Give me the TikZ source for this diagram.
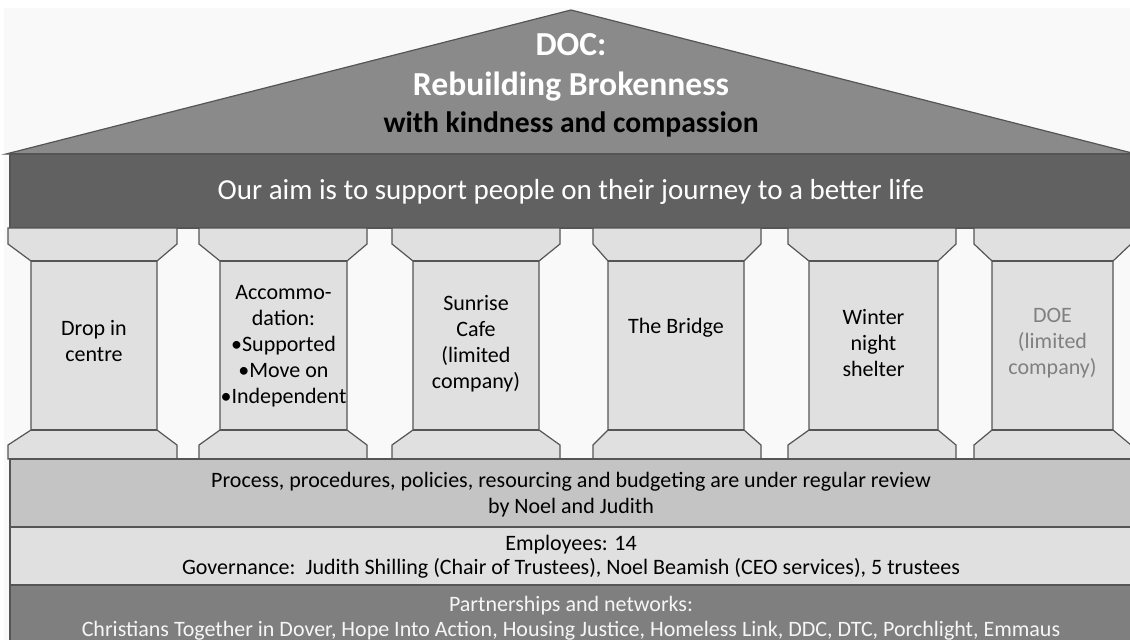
\documentclass[tikz,border=0pt]{standalone}
\usepackage{fontspec}
\setmainfont{Carlito}

\definecolor{backdrop}{HTML}{F9F9F9}
\definecolor{roofgrey}{HTML}{8A8A8A}
\definecolor{aimgrey}{HTML}{616161}
\definecolor{stonegrey}{HTML}{E0E0E0}
\definecolor{reviewgrey}{HTML}{C4C4C4}
\definecolor{partnergrey}{HTML}{7F7F7F}
\definecolor{edgegrey}{HTML}{555555}

\tikzset{
  edge/.style={draw=edgegrey, line width=0.6pt},
  pillartext/.style={align=center, font=\fontsize{11}{13}\selectfont},
  bandtext/.style={align=center, font=\fontsize{11}{13}\selectfont}
}

\begin{document}
\begin{tikzpicture}[x=0.5pt, y=-0.5pt]
  \useasboundingbox (0,0) rectangle (1130,639);
  \fill[backdrop] (4,8) rectangle (1140,645);

  % roof
  \draw[edge, fill=roofgrey] (6,154) -- (571,10) -- (1136,154) -- cycle;
  \node[text=white, font=\bfseries\fontsize{16.8}{20}\selectfont] (doc) at (571,45) {DOC:};
  \node[text=white, font=\bfseries\fontsize{16.8}{20}\selectfont] (motto) at (571,87) {Rebuilding Brokenness};
  \node[text=black, font=\bfseries\fontsize{14.8}{18}\selectfont] (kindness) at (571,124) {with kindness and compassion};

  % aim beam
  \draw[edge, fill=aimgrey] (10,154) rectangle (1140,228);
  \node[text=white, font=\fontsize{14.5}{17}\selectfont] (aim) at (571,192)
    {Our aim is to support people on their journey to a better life};

  % pillars: capital left / shaft left / shaft right / capital right
  \foreach \cl/\sl/\sr/\cr in {8/31/157/177, 199/220/347/367, 392/413/539/560,
                               593/608/744/761, 788/809/938/956, 974/992/1113/1131} {
    \draw[edge, fill=stonegrey] (\cl,228) -- (\cr,228) -- (\cr,244) -- (\sr,261)
      -- (\sr,430) -- (\cr,445) -- (\cr,459) -- (\cl,459) -- (\cl,445) -- (\sl,430)
      -- (\sl,261) -- (\cl,244) -- cycle;
    \draw[edge] (\sl,261) -- (\sr,261);
    \draw[edge] (\sl,430) -- (\sr,430);
  }
  \node[pillartext] (dropin) at (94,341) {Drop in\\centre};
  \node[pillartext] (accom) at (283.5,346)
    {Accommo-\\dation:\\\textbullet Supported\\\textbullet Move on\\\textbullet Independent};
  \node[pillartext] (sunrise) at (476,344) {Sunrise\\Cafe\\(limited\\company)};
  \node[pillartext] (bridge) at (676,328) {The Bridge};
  \node[pillartext] (shelter) at (873.5,343) {Winter\\night\\shelter};
  \node[pillartext, text=gray] (doe) at (1052.5,343) {DOE\\(limited\\company)};

  % foundations
  \draw[edge, fill=reviewgrey] (10,459) rectangle (1140,527);
  \node[bandtext] (review) at (571,495)
    {Process, procedures, policies, resourcing and budgeting are under regular review\\by Noel and Judith};
  \draw[edge, fill=stonegrey] (10,527) rectangle (1140,585);
  \node[bandtext, font=\fontsize{11}{12.2}\selectfont] (staff) at (571,557)
    {Employees: 14\\Governance:\ \ Judith Shilling (Chair of Trustees), Noel Beamish (CEO services), 5 trustees};
  \draw[edge, fill=partnergrey] (10,585) rectangle (1140,645);
  \node[bandtext, font=\fontsize{11}{12.5}\selectfont, text=white!93!gray] (partners) at (571,618)
    {Partnerships and networks:\\Christians Together in Dover, Hope Into Action, Housing Justice, Homeless Link, DDC, DTC, Porchlight, Emmaus};
\end{tikzpicture}
\end{document}
